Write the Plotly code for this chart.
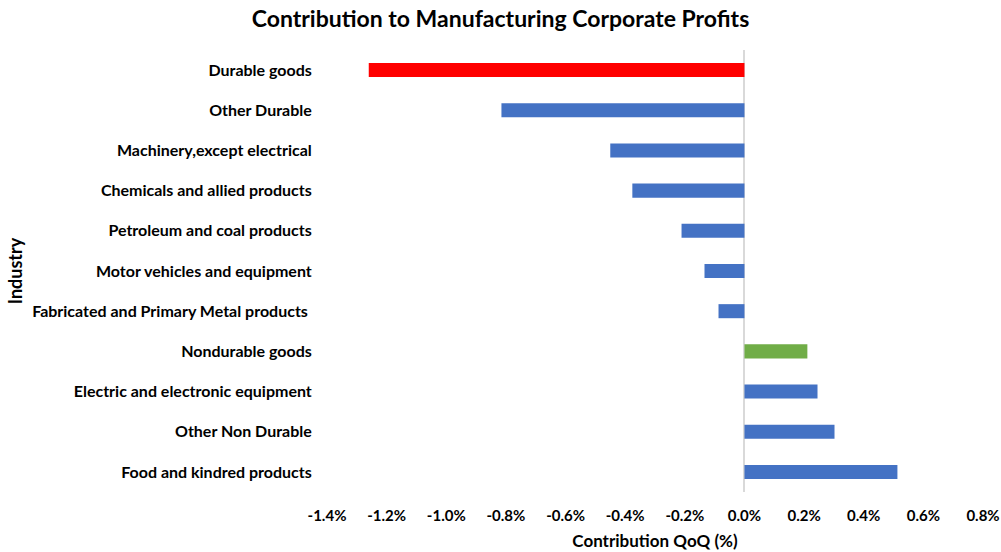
import plotly.graph_objects as go

categories = [
    "Durable goods",
    "Other Durable",
    "Machinery,except electrical",
    "Chemicals and allied products",
    "Petroleum and coal products",
    "Motor vehicles and equipment",
    "Fabricated and Primary Metal products ",
    "Nondurable goods",
    "Electric and electronic equipment",
    "Other Non Durable",
    "Food and kindred products",
]
values = [-1.26, -0.815, -0.45, -0.376, -0.211, -0.134, -0.087, 0.211, 0.245, 0.302, 0.513]
bar_colors = ["#FF0000", "#4472C4", "#4472C4", "#4472C4", "#4472C4", "#4472C4", "#4472C4",
              "#70AD47", "#4472C4", "#4472C4", "#4472C4"]
tick_vals = [-1.4, -1.2, -1.0, -0.8, -0.6, -0.4, -0.2, 0.0, 0.2, 0.4, 0.6, 0.8]
tick_text = ["-1.4%", "-1.2%", "-1.0%", "-0.8%", "-0.6%", "-0.4%", "-0.2%", "0.0%", "0.2%", "0.4%", "0.6%", "0.8%"]

FONT = "Lato"

fig = go.Figure(go.Bar(
    x=values, y=categories, orientation="h",
    marker=dict(color=bar_colors, line=dict(width=0)),
    width=0.35,
))

fig.update_layout(
    width=1001, height=552,
    margin=dict(l=327, r=18, t=50, b=60),
    paper_bgcolor="white", plot_bgcolor="white",
    showlegend=False,
    font=dict(family=FONT, color="black"),
    title=dict(text="<b>Contribution to Manufacturing Corporate Profits</b>",
               x=0.5, xanchor="center", y=0.966, yanchor="middle",
               font=dict(family=FONT, size=23, color="black")),
    xaxis=dict(range=[-1.4, 0.8], tickvals=tick_vals, ticktext=tick_text,
               automargin=False,
               showgrid=False, zeroline=True, zerolinecolor="#D9D9D9", zerolinewidth=1.5,
               showline=False, ticks="outside", ticklen=10, tickcolor="rgba(0,0,0,0)",
               tickfont=dict(family=FONT, size=15, color="black", weight="bold"),
               title=dict(text="<b>Contribution QoQ (%)</b>", standoff=12,
                          font=dict(family=FONT, size=17, color="black"))),
    yaxis=dict(categoryorder="array", categoryarray=categories, autorange="reversed",
               automargin=False,
               showgrid=False, showline=False, ticks="outside", ticklen=11, tickcolor="rgba(0,0,0,0)",
               tickfont=dict(family=FONT, size=16, color="black", weight="bold"),
               title=dict(text="<b>Industry</b>", standoff=4,
                          font=dict(family=FONT, size=18, color="black"))),
)

fig.write_html("out.html")
